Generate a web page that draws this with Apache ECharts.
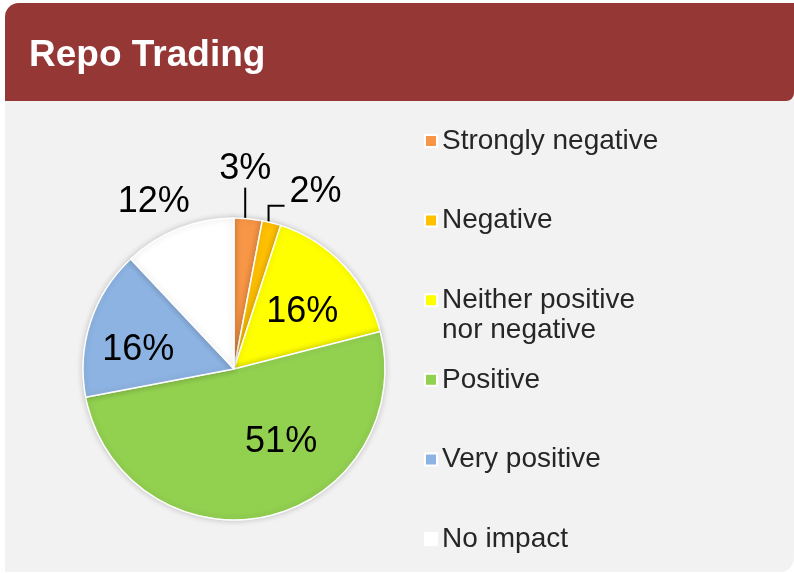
<!DOCTYPE html>
<html>
<head>
<meta charset="utf-8">
<script src="https://cdn.jsdelivr.net/npm/echarts@6/dist/echarts.min.js"></script>
<style>
  html, body { margin: 0; padding: 0; background: #fff; }
  #chart { width: 794px; height: 573px; }
</style>
</head>
<body>
<div id="chart"></div>
<script>
const title = "Repo Trading";
const categories = [
  "Strongly negative",
  "Negative",
  "Neither positive\nnor negative",
  "Positive",
  "Very positive",
  "No impact",
];
const shares = [3, 2, 16, 51, 16, 12];
const colors = ["#f79646", "#ffc000", "#ffff00", "#92d050", "#8db3e2", "#ffffff"];

// small slices get their label outside the pie
const outside = [true, true, false, false, false, true];

const FONT = "'Liberation Sans', Arial, sans-serif";
const LEGEND_LEFT = 419;
const LEGEND_TOP = 121;
const LEGEND_STEP = 79.6;
const LEGEND_PAD = 5;
const chart = echarts.init(document.getElementById("chart"));

const data = categories.map((name, i) => {
  const item = { name, value: shares[i], itemStyle: { color: colors[i] } };
  if (outside[i]) {
    item.label = { position: "outside" };
    item.labelLine = { show: i !== 5, length: 18, length2: 0 };
  }
  return item;
});

// one legend per entry so a wrapped name keeps its marker on the first line
const legends = categories.map((name, i) => ({
  orient: "vertical",
  left: LEGEND_LEFT,
  top: LEGEND_TOP + i * LEGEND_STEP,
  padding: LEGEND_PAD,
  icon: "rect",
  itemWidth: 12,
  itemHeight: 12,
  data: [name],
  formatter: (n) => n.split("\n")[0],
  textStyle: { fontFamily: FONT, fontSize: 28, color: "#262626", lineHeight: 30 },
}));

const wrapLines = [];
categories.forEach((name, i) => {
  name
    .split("\n")
    .slice(1)
    .forEach((line, k) => {
      wrapLines.push({
        type: "text",
        x: LEGEND_LEFT + LEGEND_PAD + 12 + 6,
        y: LEGEND_TOP + i * LEGEND_STEP + LEGEND_PAD + 15 + 30 * (k + 1),
        style: { text: line, fill: "#262626", font: `28px ${FONT}`, verticalAlign: "middle" },
      });
    });
});

function placeLabel(p) {
  const pts = p.labelLinePoints;
  const i = p.dataIndex;
  if (i === 0 && pts) {
    const [x, y] = pts[0];
    return {
      x: x - 3,
      y: y - 32,
      align: "center",
      verticalAlign: "bottom",
      labelLinePoints: [[x - 3, y], [x - 3, y - 31], [x - 3, y - 31]],
    };
  }
  if (i === 1 && pts) {
    const [x, y] = pts[0];
    return {
      x: x + 18,
      y: y - 31,
      align: "left",
      verticalAlign: "middle",
      labelLinePoints: [[x - 3, y], [x - 3, y - 17], [x + 13, y - 17]],
    };
  }
  const nudge = [null, null, [11, -3], [30, -4], [-21, 5], [23, -10]];
  const n = nudge[i];
  return n ? { dx: n[0], dy: n[1] } : {};
}

chart.setOption({
  animation: false,
  graphic: [
    {
      type: "rect",
      z: -10,
      shape: { x: 5, y: 3, width: 789, height: 569, r: [14, 0, 14, 0] },
      style: { fill: "#f2f2f2" },
    },
    {
      type: "rect",
      z: -9,
      shape: { x: 5, y: 3, width: 789, height: 98, r: [14, 0, 8, 0] },
      style: { fill: "#953735" },
    },
    {
      type: "text",
      x: 29,
      y: 56,
      style: {
        text: title,
        fill: "#ffffff",
        font: `bold 37px ${FONT}`,
        verticalAlign: "middle",
      },
    },
    ...wrapLines,
  ],
  legend: legends,
  series: [
    {
      type: "pie",
      center: [234, 369],
      radius: 151,
      startAngle: 90,
      clockwise: true,
      avoidLabelOverlap: false,
      itemStyle: {
        borderColor: "#ffffff",
        borderWidth: 1.5,
        shadowBlur: 6,
        shadowColor: "rgba(0,0,0,0.18)",
      },
      label: {
        show: true,
        position: "inside",
        formatter: "{c}%",
        fontFamily: FONT,
        fontSize: 36,
        color: "#000000",
      },
      labelLine: { lineStyle: { color: "#000000", width: 2 } },
      labelLayout: placeLabel,
      emphasis: { disabled: true },
      data,
    },
  ],
});
</script>
</body>
</html>
